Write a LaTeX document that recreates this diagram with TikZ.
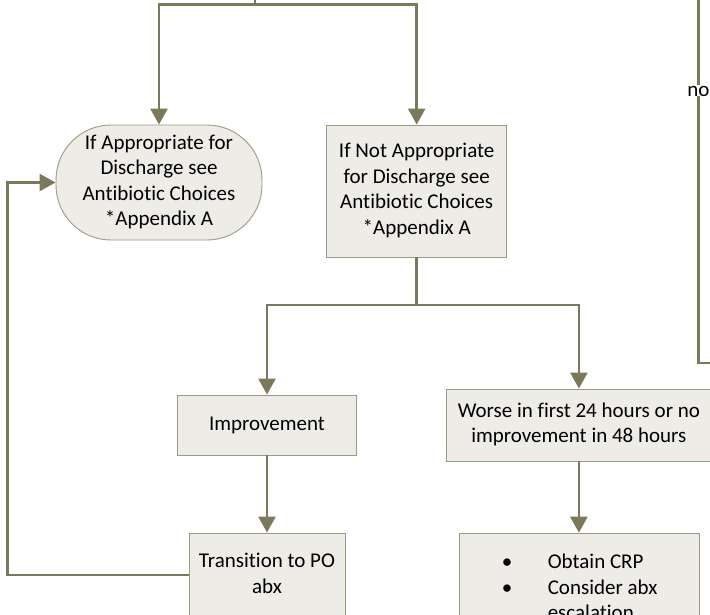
\documentclass[tikz,border=0pt]{standalone}
\usepackage{fontspec}
\setmainfont{Carlito}[Ligatures={NoCommon}]
\usetikzlibrary{arrows.meta}
\definecolor{lineC}{HTML}{7A795C}
\definecolor{fillC}{HTML}{EEECE6}
\definecolor{bordC}{HTML}{9C9A82}
\tikzset{
  conn/.style={draw=lineC, line width=2.6pt},
  arr/.style={conn, -{Triangle[width=17pt,length=16pt]}},
  boxst/.style={draw=bordC, line width=0.9pt, fill=fillC, inner sep=0pt, align=center,
    font=\fontsize{21}{25.5}\selectfont},
  lbl/.style={inner sep=0pt, font=\fontsize{21}{25.5}\selectfont}
}
\begin{document}
\begin{tikzpicture}[x=1pt,y=-1pt]
\useasboundingbox (0,0) rectangle (710,614);
\clip (0,0) rectangle (710,614);
% nodes
\node[boxst, rounded corners=55pt, minimum width=206pt, minimum height=115pt] (ell) at (159,182.5)
  {\raisebox{-2.5pt}{\begin{tabular}{@{}c@{}}If Appropriate for\\Discharge see\\Antibiotic Choices\\{}*Appendix A\end{tabular}}};
\node[boxst, minimum width=180pt, minimum height=132pt] (box1) at (416.7,191)
  {\raisebox{-2.5pt}{\begin{tabular}{@{}c@{}}If Not Appropriate\\for Discharge see\\Antibiotic Choices\\{}*Appendix A\end{tabular}}};
\node[boxst, minimum width=179.4pt, minimum height=60pt] (imp) at (267,425) {\raisebox{-2pt}{Improvement}};
\node[boxst, minimum width=264.3pt, minimum height=72pt] (worse) at (578.9,425)
  {\raisebox{-2.5pt}{\begin{tabular}{@{}c@{}}Worse in first 24 hours or no\\improvement in 48 hours\end{tabular}}};
\node[boxst, minimum width=156pt, minimum height=85pt] (trans) at (267,575.5)
  {\raisebox{-2pt}{\begin{tabular}{@{}c@{}}Transition to PO\\abx\end{tabular}}};
\node[boxst, anchor=north west, minimum width=240.3pt, minimum height=112pt,
  inner xsep=7pt, inner ysep=17pt, align=left] (bul) at (459,532.7)
  {\begin{tabular}{@{}p{46pt}@{}l@{}}
   \textbullet & Obtain CRP\\
   \textbullet & Consider abx\\
    & escalation
  \end{tabular}};
\node[lbl] (no) at (698.5,91) {no};
% coordinates
\coordinate (top) at (255,0);
\coordinate (split) at (255,4.7);
\coordinate (split2) at (416.7,305);
\coordinate (rtop) at (698.7,0);
\coordinate (rcorner) at (698.7,363);
\coordinate (rend) at (712,363);
\coordinate (fbA) at (7.3,575);
% connectors
\draw[conn] (top) -- (split);
\draw[arr] (split) -| (ell.north);
\draw[arr] (split) -| (box1.north);
\draw[conn] (box1.south) -- (split2);
\draw[arr] (split2) -| (imp.north);
\draw[arr] (split2) -| (worse.north);
\draw[arr] (imp.south) -- (trans.north);
\draw[arr] (worse.south) -- (worse.south |- bul.north);
\draw[arr] (trans.west |- fbA) -- (fbA) |- (ell.west);
\draw[conn, shorten >=1pt] (rtop) -- (no.north -| rtop);
\draw[conn] (no.south -| rtop) -- (rcorner) -- (rend);
\end{tikzpicture}
\end{document}
